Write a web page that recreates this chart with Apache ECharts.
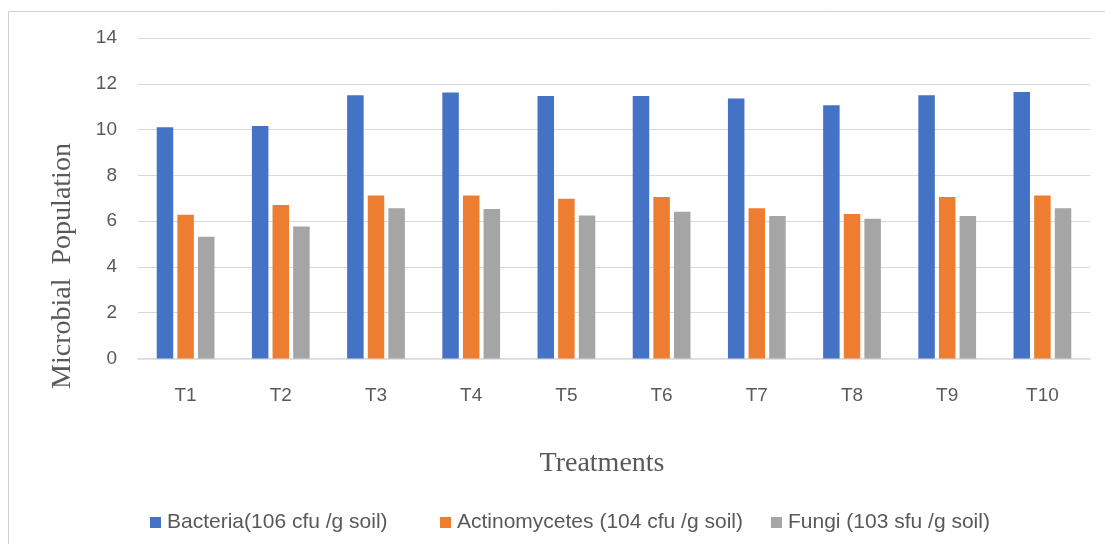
<!DOCTYPE html>
<html>
<head>
<meta charset="utf-8">
<script src="https://cdn.jsdelivr.net/npm/echarts@6/dist/echarts.min.js"></script>
<style>html,body{margin:0;padding:0;background:#fff;}#c{width:1105px;height:544px;}</style>
</head>
<body>
<div id="c"></div>
<script>
var categories = ['T1','T2','T3','T4','T5','T6','T7','T8','T9','T10'];
var seriesNames = ['Bacteria(106 cfu /g soil)', 'Actinomycetes (104 cfu /g soil)', 'Fungi (103 sfu /g soil)'];
var bacteria = [10.1, 10.16, 11.5, 11.62, 11.47, 11.47, 11.36, 11.06, 11.5, 11.64];
var actinomycetes = [6.28, 6.7, 7.12, 7.12, 6.98, 7.06, 6.56, 6.31, 7.06, 7.12];
var fungi = [5.32, 5.77, 6.56, 6.53, 6.25, 6.41, 6.22, 6.1, 6.22, 6.56];
var yTicks = [0, 2, 4, 6, 8, 10, 12, 14];
var colors = ['#4472C4', '#ED7D31', '#A5A5A5'];

var chart = echarts.init(document.getElementById('c'));
var sansFont = 'Liberation Sans';
var textColor = '#595959';

function mkLegend(i, left) {
  return {
    left: left, top: 507, data: [seriesNames[i]],
    itemWidth: 11, itemHeight: 11, itemGap: 6,
    icon: 'rect',
    textStyle: { fontFamily: sansFont, fontSize: 21, color: textColor, padding: [0,0,0,1] }
  };
}

var option = {
  animation: false,
  color: colors,
  grid: { left: 138, right: 15, top: 38, bottom: 185.5 },
  legend: [mkLegend(0, 145), mkLegend(1, 435), mkLegend(2, 766)],
  xAxis: {
    type: 'category', data: categories,
    axisLine: { lineStyle: { color: '#d9d9d9', width: 1.5 } },
    axisTick: { show: false },
    axisLabel: { fontFamily: sansFont, fontSize: 19, color: textColor, margin: 28 }
  },
  yAxis: {
    type: 'value', min: yTicks[0], max: yTicks[yTicks.length - 1], interval: 2,
    axisLine: { show: false }, axisTick: { show: false },
    splitLine: { lineStyle: { color: '#d9d9d9', width: 1 } },
    axisLabel: { fontFamily: sansFont, fontSize: 19, color: textColor, margin: 21 }
  },
  series: [
    { name: seriesNames[0], type: 'bar', data: bacteria, barWidth: 16.5, barGap: '25%' },
    { name: seriesNames[1], type: 'bar', data: actinomycetes, barWidth: 16.5, barGap: '25%' },
    { name: seriesNames[2], type: 'bar', data: fungi, barWidth: 16.5, barGap: '25%' }
  ],
  graphic: [
    { type: 'rect', shape: { x: 8.5, y: 11.5, width: 1200, height: 600 }, style: { fill: 'none', stroke: '#d0d0d0', lineWidth: 1 }, silent: true, z: -10 },
    { type: 'text', x: 63, y: 266, rotation: Math.PI / 2, style: { text: 'Microbial  Population', font: '28px "Liberation Serif"', fill: textColor, textAlign: 'center', textVerticalAlign: 'middle' } },
    { type: 'text', x: 602, y: 464, style: { text: 'Treatments', font: '28px "Liberation Serif"', fill: textColor, textAlign: 'center', textVerticalAlign: 'middle' } }
  ]
};
chart.setOption(option);
</script>
</body>
</html>
